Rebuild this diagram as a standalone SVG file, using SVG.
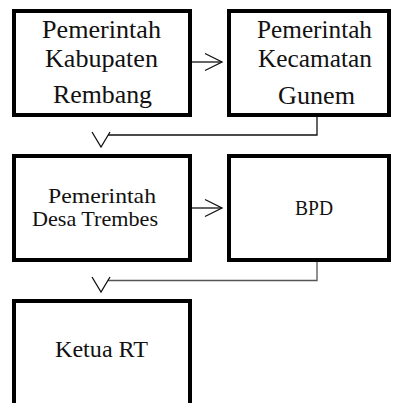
<svg xmlns="http://www.w3.org/2000/svg" width="393" height="403" viewBox="0 0 393 403">
<style>
.box{fill:#fff;stroke:#000;stroke-width:4}
.t{fill:#111;text-anchor:middle;font-family:"Liberation Serif","Times New Roman",Tinos,serif}
.conn{fill:none;stroke:#111;stroke-width:1.3}
.conn2{fill:none;stroke:#555;stroke-width:1.3}
</style>
<defs>
<marker id="ah" markerUnits="userSpaceOnUse" viewBox="-18 -10 20 20" refX="0" refY="0" markerWidth="20" markerHeight="20" orient="auto">
<path d="M-17,-8.5 L0,0 L-17,8.5" fill="none" stroke="#111" stroke-width="1.3"/>
</marker>
<path id="down" d="M-9,-15 L0,0 L9,-15" fill="none" stroke="#111" stroke-width="1.3"/>
</defs>
<g id="n1">
<rect class="box" x="14" y="11" width="176" height="104"/>
<text class="t" font-size="25" x="101.5" y="38" textLength="119" lengthAdjust="spacingAndGlyphs">Pemerintah</text>
<text class="t" font-size="25" x="101.5" y="67" textLength="113" lengthAdjust="spacingAndGlyphs">Kabupaten</text>
<text class="t" font-size="25" x="102.5" y="103" textLength="99" lengthAdjust="spacingAndGlyphs">Rembang</text>
</g>
<g id="n2">
<rect class="box" x="229" y="11" width="160" height="104"/>
<text class="t" font-size="25" x="314.5" y="38" textLength="115" lengthAdjust="spacingAndGlyphs">Pemerintah</text>
<text class="t" font-size="25" x="315" y="67" textLength="114" lengthAdjust="spacingAndGlyphs">Kecamatan</text>
<text class="t" font-size="25" x="316.5" y="104" textLength="77" lengthAdjust="spacingAndGlyphs">Gunem</text>
</g>
<g id="n3">
<rect class="box" x="14" y="156" width="176" height="104"/>
<text class="t" font-size="22" x="102" y="202.5" textLength="108" lengthAdjust="spacingAndGlyphs">Pemerintah</text>
<text class="t" font-size="22" x="95" y="225.5" textLength="126" lengthAdjust="spacingAndGlyphs">Desa Trembes</text>
</g>
<g id="n4">
<rect class="box" x="229" y="156" width="160" height="104"/>
<text class="t" font-size="20" x="314" y="215" textLength="38" lengthAdjust="spacingAndGlyphs">BPD</text>
</g>
<g id="n5">
<rect class="box" x="14" y="301" width="176" height="112"/>
<text class="t" font-size="23" x="101.5" y="357" textLength="93" lengthAdjust="spacingAndGlyphs">Ketua RT</text>
</g>
<g id="connectors">
<line class="conn" x1="192" y1="62" x2="222" y2="62" marker-end="url(#ah)"/>
<path class="conn" d="M317,117 V135 H108"/>
<use href="#down" x="101" y="147"/>
<line class="conn" x1="192" y1="208" x2="222" y2="208" marker-end="url(#ah)"/>
<path class="conn2" d="M317,262 V280.5 H108"/>
<use href="#down" x="101" y="292"/>
</g>
</svg>
